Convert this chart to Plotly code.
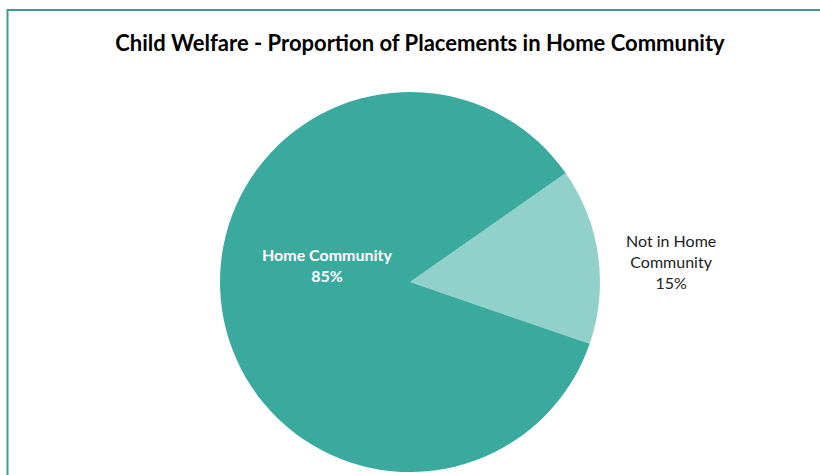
import plotly.graph_objects as go

# slice data
labels = ["Not in Home Community", "Home Community"]
values = [15, 85]
label_text = ["Not in Home<br>Community<br>15%", "<b>Home Community<br>85%</b>"]
colors = ["#91D1C9", "#3AAA9F"]

W, H = 820, 475


def px_x(x):
    return x / W


def px_y(y):
    return 1 - y / H


fig = go.Figure(
    go.Pie(
        labels=labels,
        values=values,
        sort=False,
        direction="clockwise",
        rotation=55,
        marker=dict(colors=colors, line=dict(width=0)),
        textinfo="none",
        hoverinfo="label+percent",
        showlegend=False,
        domain=dict(x=[px_x(410 - 190), px_x(410 + 190)], y=[px_y(472), px_y(92)]),
    )
)

# slice labels
fig.add_annotation(x=px_x(671), y=px_y(261), xref="paper", yref="paper",
                   xanchor="center", yanchor="middle",
                   text=label_text[0], showarrow=False,
                   font=dict(size=16, color="#222222"), align="center")
fig.add_annotation(x=px_x(327), y=px_y(265), xref="paper", yref="paper",
                   xanchor="center", yanchor="middle",
                   text=label_text[1], showarrow=False,
                   font=dict(size=16, color="white"), align="center")

# chart frame
fig.add_shape(type="rect", xref="paper", yref="paper",
              x0=px_x(7.5), x1=1.05, y0=-0.05, y1=px_y(10),
              line=dict(color="#3A9E94", width=2), layer="below")

fig.update_layout(
    title=dict(text="<b>Child Welfare - Proportion of Placements in Home Community</b>",
               x=px_x(420), xanchor="center", y=px_y(43), yanchor="middle",
               font=dict(size=22, color="black")),
    font=dict(family="Lato, Open Sans, sans-serif"),
    width=W,
    height=H,
    margin=dict(l=0, r=0, t=0, b=0),
    paper_bgcolor="white",
    plot_bgcolor="white",
)

fig.write_html("out.html", config={"displayModeBar": False},
               post_script="document.body.style.margin='0';")
